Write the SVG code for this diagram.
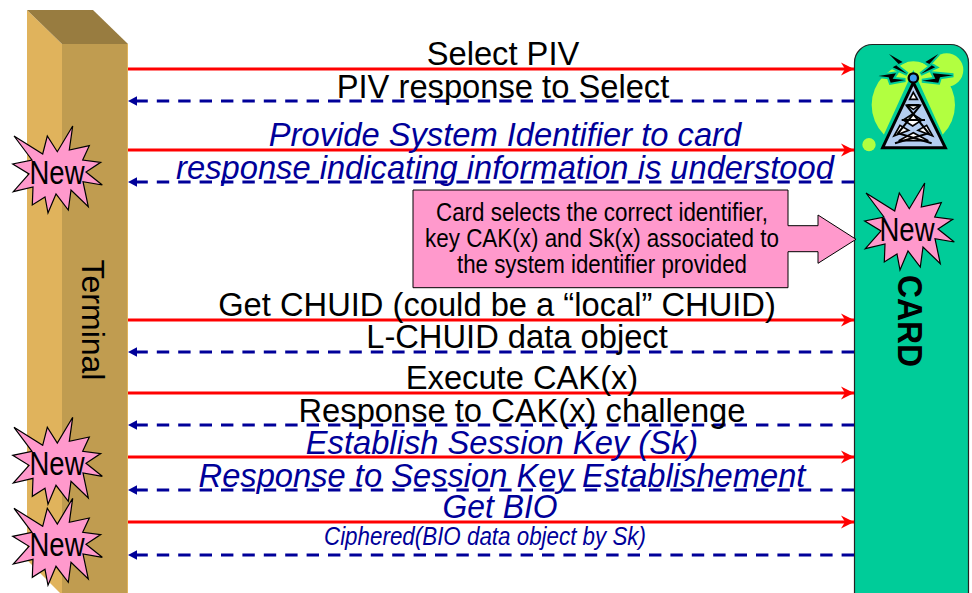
<svg xmlns="http://www.w3.org/2000/svg" width="972" height="593" viewBox="0 0 972 593">
<style>
text{font-family:"Liberation Sans",Arial,sans-serif}
.m{font-size:32.700px;fill:#000;text-anchor:middle}
.i{font-size:32.700px;fill:#000099;font-style:italic;text-anchor:middle}
.req{stroke:#ff0000;stroke-width:2.800;fill:none;marker-end:url(#r)}
.res{stroke:#000099;stroke-width:3;fill:none;stroke-dasharray:12.400 9;marker-end:url(#b)}
.star{fill:#ff99cc;stroke:#000;stroke-width:1.200;stroke-linejoin:miter}
.new{font-size:33px;fill:#000;text-anchor:middle}
.c{font-size:26px;fill:#000;text-anchor:middle}
</style>
<defs>
<marker id="r" markerUnits="userSpaceOnUse" markerWidth="14" markerHeight="16" refX="13" refY="7.500" orient="auto"><path d="M0 1L13 7.500L0 14L4 7.500Z" fill="#ff0000"/></marker>
<marker id="b" markerUnits="userSpaceOnUse" markerWidth="12" markerHeight="12" refX="9" refY="5.500" orient="auto"><path d="M0 .8L9 5.500L0 10.200Z" fill="#000099"/></marker>
<path id="s" class="star" d="M72.700 126L57.300 151.700L47.300 136L42.700 154L14 136L32 160L12.700 164L29 174L13.300 191.700L33 187L32.300 205L45 197L48 213L56 194L68.300 210L71 190L88.300 206.700L83 181.700L102.300 185L86 172L100.700 162.300L82.700 160L89.300 145.700L69.300 150Z"/>
<path id="bolts" d="M57 12L98 36L78 46L112 72L68 52L86 42Z M205 12L166 36L186 46L152 72L196 52L178 42Z M25 78L78 70L68 86L106 90L62 98L56 82Z M250 76L188 70L196 86L156 92L205 98L210 82Z"/>
</defs>
<rect width="972" height="593" fill="#fff"/>
<g id="terminal">
<path d="M27 10L62 44V593H60L27 560Z" fill="#e0b35c"/>
<path d="M62 44H128V593H62Z" fill="#c09c50"/>
<path d="M27 10H93L128 44H62Z" fill="#987c40"/>
<path d="M127.500 44V593" stroke="#e0b35c" stroke-width="1"/>
<text transform="translate(82,320) rotate(90)" font-size="32" text-anchor="middle" fill="#000">Terminal</text>
</g>
<g id="card">
<rect x="854.500" y="44.500" width="114" height="570" rx="18" fill="#00cc99" stroke="#222" stroke-width="1.200"/>
<text transform="translate(898,321) rotate(90)" font-size="35" font-weight="bold" text-anchor="middle" fill="#000" textLength="92" lengthAdjust="spacingAndGlyphs">CARD</text>
<g id="tower" transform="translate(870,50) scale(.3333)">
<circle cx="130" cy="165" r="125" fill="#b2ff40"/>
<circle cx="230" cy="60" r="50" fill="#b2ff40"/>
<circle cx="-3" cy="284" r="20" fill="#b2ff40"/>
<ellipse cx="130" cy="52" rx="40" ry="18" fill="#b2ff40"/>
<path d="M18 306L130 60L242 306Z" fill="#00cc99"/>
<use href="#bolts" fill="#00cc99" stroke="#00cc99" stroke-width="12"/>
<path d="M38 293L130 98L226 293Z" fill="#b4cdf0" stroke="#000" stroke-width="9" stroke-linejoin="miter"/>
<path d="M130 127L142 148H119Z M112 166H148L130 178Z M100 210L128 192L156 210L128 228Z M86 272L130 248L175 272Z M72 258L90 226L116 241Z M188 258L170 226L144 241Z" fill="#fff" stroke="#000" stroke-width="5"/>
<path d="M108 165L176 250L75 280M152 165L84 250L185 280M112 165H148M95 210H165" fill="none" stroke="#000" stroke-width="6"/>
<circle cx="130" cy="84" r="14" fill="#3f9bf0" stroke="#000" stroke-width="7"/>
<use href="#bolts" fill="#000"/>
</g>
</g>
<g id="connectors">
<path class="req" d="M128 69H854"/>
<path class="res" d="M854 101H128"/>
<path class="req" d="M128 150H854"/>
<path class="res" d="M854 182H128"/>
<path class="req" d="M128 320H854"/>
<path class="res" d="M854 352H128"/>
<path class="req" d="M128 393H854"/>
<path class="res" d="M854 425H128"/>
<path class="req" d="M128 457H854"/>
<path class="res" d="M854 490H128"/>
<path class="req" d="M128 522H854"/>
<path class="res" d="M854 555H128"/>
</g>
<g id="labels">
<text class="m" x="503" y="65">Select PIV</text>
<text class="m" x="503" y="98">PIV response to Select</text>
<text class="i" x="505" y="146">Provide System Identifier to card</text>
<text class="i" x="505" y="179">response indicating information is understood</text>
<text class="m" x="497" y="316">Get CHUID (could be a “local” CHUID)</text>
<text class="m" x="517" y="348">L-CHUID data object</text>
<text class="m" x="522" y="389">Execute CAK(x)</text>
<text class="m" x="522" y="422">Response to CAK(x) challenge</text>
<text class="i" x="502" y="454">Establish Session Key (Sk)</text>
<text class="i" x="502" y="487">Response to Session Key Establishement</text>
<text class="i" x="500" y="518" textLength="115" lengthAdjust="spacingAndGlyphs">Get BIO</text>
<text x="485" y="545" font-size="25" font-style="italic" fill="#000099" text-anchor="middle" textLength="322" lengthAdjust="spacingAndGlyphs">Ciphered(BIO data object by Sk)</text>
</g>
<g id="callout">
<path d="M413 190H788V225.700H818V215L856 239.300L818 263.300V251.700H788V287.700H413Z" fill="#ff99cc" stroke="#000" stroke-width="1"/>
<text class="c" x="602" y="220.700" textLength="332" lengthAdjust="spacingAndGlyphs">Card selects the correct identifier,</text>
<text class="c" x="602" y="246.700" textLength="354" lengthAdjust="spacingAndGlyphs">key CAK(x) and Sk(x) associated to</text>
<text class="c" x="602" y="272.700" textLength="290" lengthAdjust="spacingAndGlyphs">the system identifier provided</text>
</g>
<g id="new1"><use href="#s"/><text class="new" x="57" y="184" textLength="55" lengthAdjust="spacingAndGlyphs">New</text></g>
<g id="new2"><use href="#s" y="291.300"/><text class="new" x="57" y="475" textLength="55" lengthAdjust="spacingAndGlyphs">New</text></g>
<g id="new3"><use href="#s" y="372.300"/><text class="new" x="57" y="556" textLength="55" lengthAdjust="spacingAndGlyphs">New</text></g>
<g id="new4"><use href="#s" x="852" y="57"/><text class="new" x="907" y="241" textLength="55" lengthAdjust="spacingAndGlyphs">New</text></g>
</svg>
